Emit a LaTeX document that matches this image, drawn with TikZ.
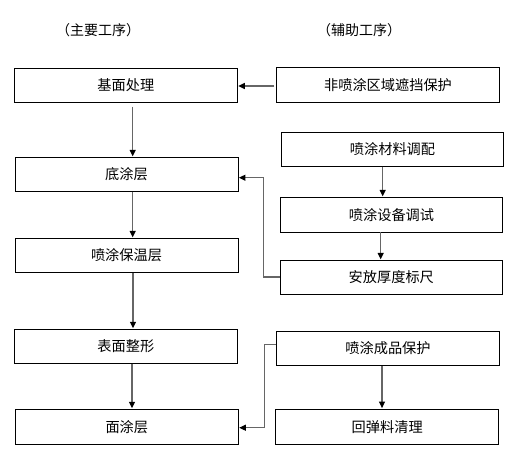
\documentclass[tikz,border=0pt]{standalone}
\usepackage{fontspec}
\setmainfont{Noto Sans CJK SC}
\usetikzlibrary{arrows.meta}
\begin{document}
\begin{tikzpicture}[x=1bp,y=-1bp,
  box/.style={draw=black,line width=0.9bp,inner sep=0pt,font=\fontsize{14.2bp}{16bp}\selectfont},
  conn/.style={draw=black!60,line width=1.1bp,-{Triangle[length=6.5bp,width=6bp,color=black,fill=black]},shorten >=0.5bp},
  title/.style={font=\fontsize{14bp}{16bp}\selectfont}]
\useasboundingbox (0,0) rectangle (528,472);
\fill[white] (0,0) rectangle (528,472);
\node[title] (t1) at (98,30) {（主要工序）};
\node[title] (t2) at (359,30) {（辅助工序）};
% main column
\node[box,minimum width=223bp,minimum height=34bp] (a1) at (125.8,85.3) {基面处理};
\node[box,minimum width=223bp,minimum height=34bp] (a2) at (126.5,174.3) {底涂层};
\node[box,minimum width=223bp,minimum height=34bp] (a3) at (126.5,255.3) {喷涂保温层};
\node[box,minimum width=223bp,minimum height=34bp] (a4) at (125.8,346.2) {表面整形};
\node[box,minimum width=223bp,minimum height=35bp] (a5) at (126.8,426.7) {面涂层};
% aux column
\node[box,minimum width=222.6bp,minimum height=35bp] (b1) at (388,84.8) {非喷涂区域遮挡保护};
\node[box,minimum width=221.6bp,minimum height=34bp] (b2) at (392.5,149.2) {喷涂材料调配};
\node[box,minimum width=222.4bp,minimum height=34.7bp] (b3) at (391.5,214.7) {喷涂设备调试};
\node[box,minimum width=222bp,minimum height=34bp] (b4) at (391.3,277.3) {安放厚度标尺};
\node[box,minimum width=222.6bp,minimum height=34bp] (b5) at (388,348.3) {喷涂成品保护};
\node[box,minimum width=223bp,minimum height=35.3bp] (b6) at (387.2,426.7) {回弹料清理};
% main flow
\draw[conn] ([yshift=-4bp]a1.south -| 132.7,0) -- (a2.north -| 132.7,0);
\draw[conn] (a2.south -| 132.7,0) -- (a3.north -| 132.7,0);
\draw[conn] (a3.south -| 133,0) -- (a4.north -| 133,0);
\draw[conn] (a4.south -| 132,0) -- (a5.north -| 132,0);
% aux flow
\coordinate (c0) at (274,86);
\draw[conn] (c0) -- (a1.east |- c0);
\draw[conn] (b2.south -| 382.7,0) -- (b3.north -| 382.7,0);
\draw[conn] (b3.south -| 380.7,0) -- (b4.north -| 380.7,0);
\draw[conn] (b5.south -| 382,0) -- (b6.north -| 382,0);
\coordinate (c1) at (263.7,277);
\coordinate (c2) at (263.7,177.7);
\draw[conn] (b4.west |- c1) -- (c1) -- (c2) -- (a2.east |- c2);
\coordinate (c3) at (264.3,344.3);
\coordinate (c4) at (264.3,427.7);
\draw[conn] (b5.west |- c3) -- (c3) -- (c4) -- (a5.east |- c4);
\end{tikzpicture}
\end{document}
